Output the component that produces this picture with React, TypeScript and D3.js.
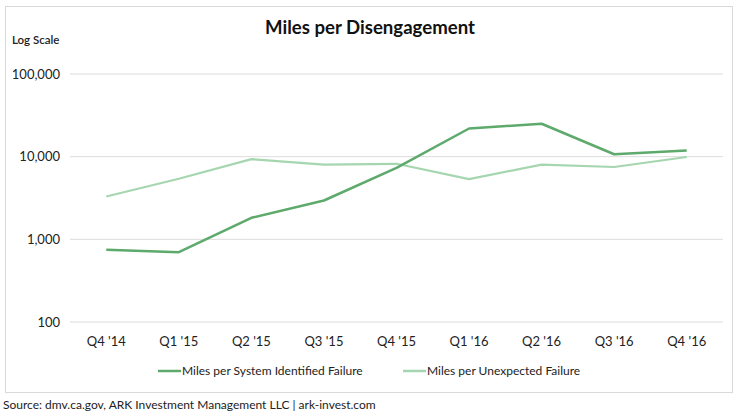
import React from "react";
import * as d3 from "d3";

const quarters = ["Q4 '14", "Q1 '15", "Q2 '15", "Q3 '15", "Q4 '15", "Q1 '16", "Q2 '16", "Q3 '16", "Q4 '16"];
const systemFailure = [750, 700, 1820, 2950, 7300, 21900, 25000, 10700, 11900];
const unexpectedFailure = [3300, 5400, 9350, 8000, 8200, 5350, 8000, 7500, 9900];
const yTicks = [100, 1000, 10000, 100000];
const seriesNames = ["Miles per System Identified Failure", "Miles per Unexpected Failure"];
const seriesColors = ["#5ea96c", "#a6d6b0"];

const W = 740;
const H = 416;
const FONT = "Lato, 'Open Sans', sans-serif";

export default function App() {
  const x = d3.scaleBand<string>().domain(quarters).range([70, 723]);
  const y = d3.scaleLog().domain([100, 100000]).range([322, 74]);
  const fmt = d3.format(",");
  const line = d3
    .line<number>()
    .x((_, i) => (x(quarters[i]) as number) + x.bandwidth() / 2)
    .y((v) => y(v));
  const series = [systemFailure, unexpectedFailure];

  return (
    <svg width={W} height={H} style={{ position: "absolute", left: 0, top: 0, background: "#fff" }} fontFamily={FONT}>
      <rect x={0} y={0} width={W} height={H} fill="#fff" />
      <rect x={5.5} y={6.5} width={727} height={386} fill="#fff" stroke="#d9d9d9" strokeWidth={1} />
      <text x={370} y={34} textAnchor="middle" fontSize={18.6} fontWeight={700} fill="#111">
        Miles per Disengagement
      </text>
      <text x={12} y={44} fontSize={11.5} fontWeight={600} fill="#222">
        Log Scale
      </text>
      {yTicks.map((t) => (
        <g key={t}>
          <line x1={70} x2={723} y1={y(t)} y2={y(t)} stroke="#dcdcdc" strokeWidth={1} />
          <text x={60} y={y(t)} dy="0.35em" textAnchor="end" fontSize={13} fill="#222">
            {fmt(t)}
          </text>
        </g>
      ))}
      {quarters.map((q) => (
        <text key={q} x={(x(q) as number) + x.bandwidth() / 2} y={346} textAnchor="middle" fontSize={13} fill="#222">
          {q}
        </text>
      ))}
      {series.map((s, i) => (
        <path key={i} d={line(s) ?? ""} fill="none" stroke={seriesColors[i]} strokeWidth={i === 0 ? 2.5 : 2.2} strokeLinejoin="round" />
      )).reverse()}
      {seriesNames.map((name, i) => {
        const lx = i === 0 ? 158 : 403;
        return (
          <g key={name}>
            <line x1={lx} x2={lx + 23} y1={371} y2={371} stroke={seriesColors[i]} strokeWidth={2.5} />
            <text x={lx + 24} y={371} dy="0.35em" fontSize={12} fill="#222">
              {name}
            </text>
          </g>
        );
      })}
      <text x={3} y={409} fontSize={12} fill="#222">
        Source: dmv.ca.gov, ARK Investment Management LLC | ark-invest.com
      </text>
    </svg>
  );
}
